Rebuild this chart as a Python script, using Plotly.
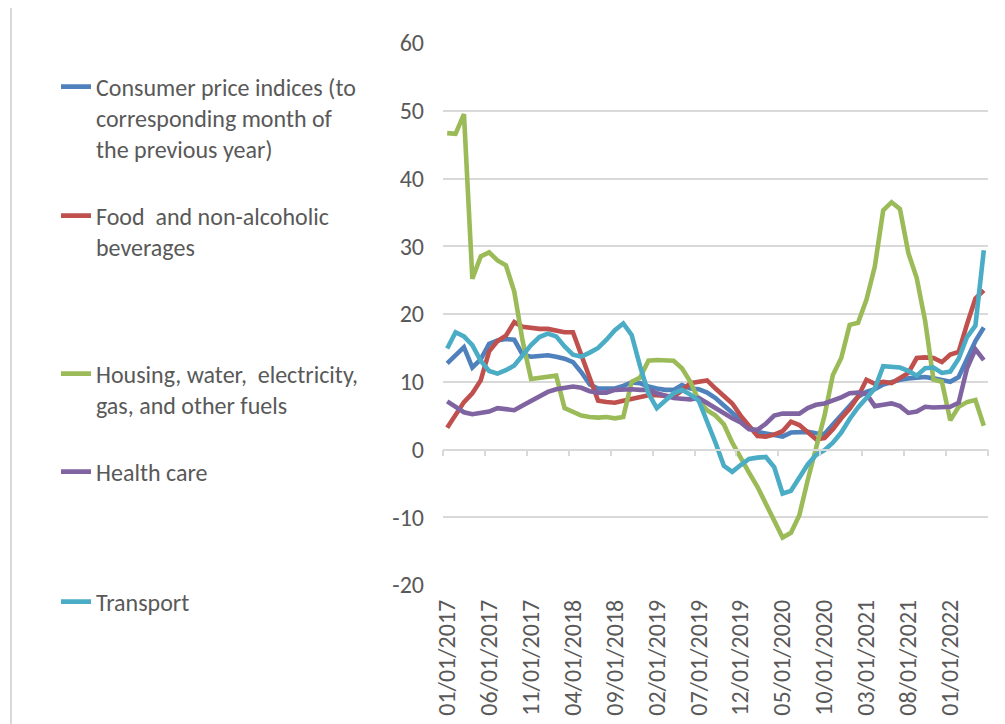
import plotly.graph_objects as go

months = [f"{m:02d}/01/{y}" for y in range(2017, 2023) for m in range(1, 13)][:65]

cpi = [12.7, 14.0, 15.1, 12.1, 13.3, 15.6, 16.1, 16.3, 16.2, 14.0,
       13.7, 13.8, 13.9, 13.7, 13.4, 12.9, 11.4, 9.6, 9.0, 9.0,
       9.0, 9.4, 9.9, 9.8, 9.3, 9.0, 8.8, 8.8, 9.5, 9.0,
       8.9, 8.4, 7.6, 6.5, 5.4, 4.3, 3.3, 2.6, 2.4, 2.2,
       1.9, 2.5, 2.6, 2.6, 2.4, 2.3, 3.7, 5.0, 6.4, 7.8,
       8.5, 8.9, 9.6, 10.0, 10.3, 10.5, 10.6, 10.7, 10.5, 10.3,
       10.0, 10.7, 13.3, 16.0, 18.0]

food = [3.2, 5.0, 7.0, 8.3, 10.2, 14.5, 16.0, 16.8, 18.8, 18.1,
        17.9, 17.8, 17.8, 17.5, 17.3, 17.3, 14.0, 10.5, 7.2, 7.0,
        6.9, 7.2, 7.5, 7.8, 8.0, 8.0, 7.9, 7.8, 8.7, 9.8,
        10.0, 10.2, 9.0, 8.0, 6.8, 5.0, 3.5, 2.0, 1.9, 2.2,
        2.7, 4.1, 3.6, 2.5, 1.5, 1.7, 3.0, 4.6, 6.0, 7.8,
        10.3, 9.7, 10.0, 9.8, 10.5, 11.3, 13.5, 13.6, 13.5, 12.9,
        14.0, 14.4, 18.5, 22.3, 23.5]

housing = [46.7, 46.6, 49.5, 25.2, 28.5, 29.1, 27.9, 27.2, 23.3, 16.0,
           10.4, 10.6, 10.8, 10.9, 6.1, 5.6, 5.0, 4.8, 4.7, 4.8,
           4.6, 4.8, 10.0, 10.6, 13.1, 13.2, 13.2, 13.1, 12.0, 10.0,
           7.2, 5.8, 5.0, 3.7, 1.0, -1.3, -3.4, -5.5, -8.1, -10.5,
           -13.0, -12.3, -9.7, -4.5, 0.3, 5.0, 11.0, 13.5, 18.4, 18.7,
           22.1, 27.0, 35.3, 36.5, 35.5, 29.0, 25.3, 19.0, 10.3, 10.0,
           4.3, 6.3, 7.0, 7.3, 3.5]

health = [7.1, 6.2, 5.5, 5.2, 5.4, 5.6, 6.1, 6.0, 5.8, 6.5,
          7.2, 7.8, 8.5, 8.9, 9.1, 9.3, 9.1, 8.6, 8.4, 8.4,
          8.8, 8.9, 8.9, 8.8, 8.8, 8.3, 7.9, 7.6, 7.5, 7.4,
          7.6, 6.8, 6.0, 5.3, 4.6, 4.0, 3.0, 2.9, 3.8, 5.0,
          5.3, 5.3, 5.3, 6.1, 6.6, 6.8, 7.2, 7.7, 8.3, 8.4,
          8.2, 6.4, 6.6, 6.8, 6.4, 5.4, 5.6, 6.3, 6.2, 6.2,
          6.3, 6.9, 12.0, 14.8, 13.2]

transport = [14.9, 17.3, 16.7, 15.4, 13.1, 11.6, 11.2, 11.7, 12.4, 13.9,
             15.4, 16.6, 17.1, 16.7, 15.2, 14.0, 13.7, 14.3, 15.0, 16.2,
             17.6, 18.6, 16.9, 12.3, 8.3, 6.1, 7.3, 8.3, 8.8, 8.1,
             7.2, 4.3, 1.0, -2.4, -3.3, -2.3, -1.4, -1.2, -1.1, -2.6,
             -6.5, -6.1, -4.2, -2.2, -0.8, -0.1, 1.0, 2.5, 4.5, 6.2,
             7.6, 9.0, 12.3, 12.2, 12.1, 11.6, 10.9, 12.0, 12.1, 11.3,
             11.5, 13.4, 16.6, 18.3, 29.4]

series_names = [
    "Consumer price indices (to<br>corresponding month of<br>the previous year)",
    "Food  and non-alcoholic<br>beverages",
    "Housing, water,  electricity,<br>gas, and other fuels",
    "Health care",
    "Transport",
]
series_values = [cpi, food, housing, health, transport]
colors = ["#4F81BD", "#C0504D", "#9BBB59", "#8064A2", "#4BACC6"]

y_ticks = list(range(-20, 61, 10))
y_ticktext = [str(v) for v in y_ticks]
label_idx = list(range(0, 65, 5))

# page has an 8px body margin
OFF = 8
W, H = 1005 - OFF, 724 - OFF
L, R, T, B = 435, 17, 35, 139
PW, PH = W - L - R, H - T - B

FONT = "Carlito, Calibri, Lato, sans-serif"
TXT = "#595959"
GRID = "#D9D9D9"
FS = 24

def px2x(px):
    return (px - OFF - L) / PW

def px2y(py):
    return (H - B - (py - OFF)) / PH

fig = go.Figure()
x_idx = list(range(len(months)))
legend_ids = ["legend", "legend2", "legend3", "legend4", "legend5"]
for name, vals, col, lg in zip(series_names, series_values, colors, legend_ids):
    fig.add_trace(go.Scatter(
        x=x_idx, y=vals, mode="lines", name=name,
        line=dict(color=col, width=4.6),
        legend=lg,
    ))

# helper trace for the axis drawn at y = 0
fig.add_trace(go.Scatter(x=[0], y=[0], xaxis="x2", mode="lines",
                         showlegend=False, hoverinfo="skip",
                         line=dict(width=0)))

legend_centers = [87, 216, 374, 472, 602]
layout_legends = {}
for lg, ly in zip(legend_ids, legend_centers):
    layout_legends[lg] = dict(
        x=px2x(56), y=px2y(ly - 22.5), xanchor="left", yanchor="top",
        bgcolor="rgba(0,0,0,0)", valign="top",
        font=dict(family=FONT, size=FS, color=TXT),
        itemwidth=30, tracegroupgap=0,
    )

fig.update_layout(
    width=W, height=H,
    margin=dict(l=L, r=R, t=T, b=B, autoexpand=False),
    paper_bgcolor="white", plot_bgcolor="white",
    font=dict(family=FONT, color=TXT, size=FS),
    showlegend=True,
    **layout_legends,
    xaxis=dict(
        range=[-0.5, 64.5], tickmode="array", tickvals=label_idx,
        ticktext=[months[i] for i in label_idx], tickangle=-90,
        showgrid=False, zeroline=False, showline=False, ticks="",
        tickfont=dict(family=FONT, size=FS, color=TXT),
        ticklabelstandoff=9,
    ),
    xaxis2=dict(
        range=[-0.5, 64.5], overlaying="x", anchor="free",
        position=px2y(449.5), side="bottom",
        tickmode="array", tickvals=[i - 0.5 for i in range(0, 66, 5)],
        ticks="outside", ticklen=6, tickwidth=1.5, tickcolor=GRID,
        showticklabels=False, showgrid=False, zeroline=False,
        showline=True, linecolor=GRID, linewidth=1.5,
    ),
    yaxis=dict(
        range=[-20, 60], tickmode="array", tickvals=y_ticks,
        ticktext=y_ticktext,
        showgrid=True, gridcolor=GRID, gridwidth=1.5,
        zeroline=False, showline=False, ticks="",
        tickfont=dict(family=FONT, size=FS, color=TXT),
        ticklabelstandoff=18,
    ),
)

fig.add_shape(type="line", xref="paper", yref="paper",
              x0=px2x(11), x1=px2x(11), y0=px2y(-5), y1=px2y(730),
              line=dict(color=GRID, width=2))

fig.write_html("out.html")
